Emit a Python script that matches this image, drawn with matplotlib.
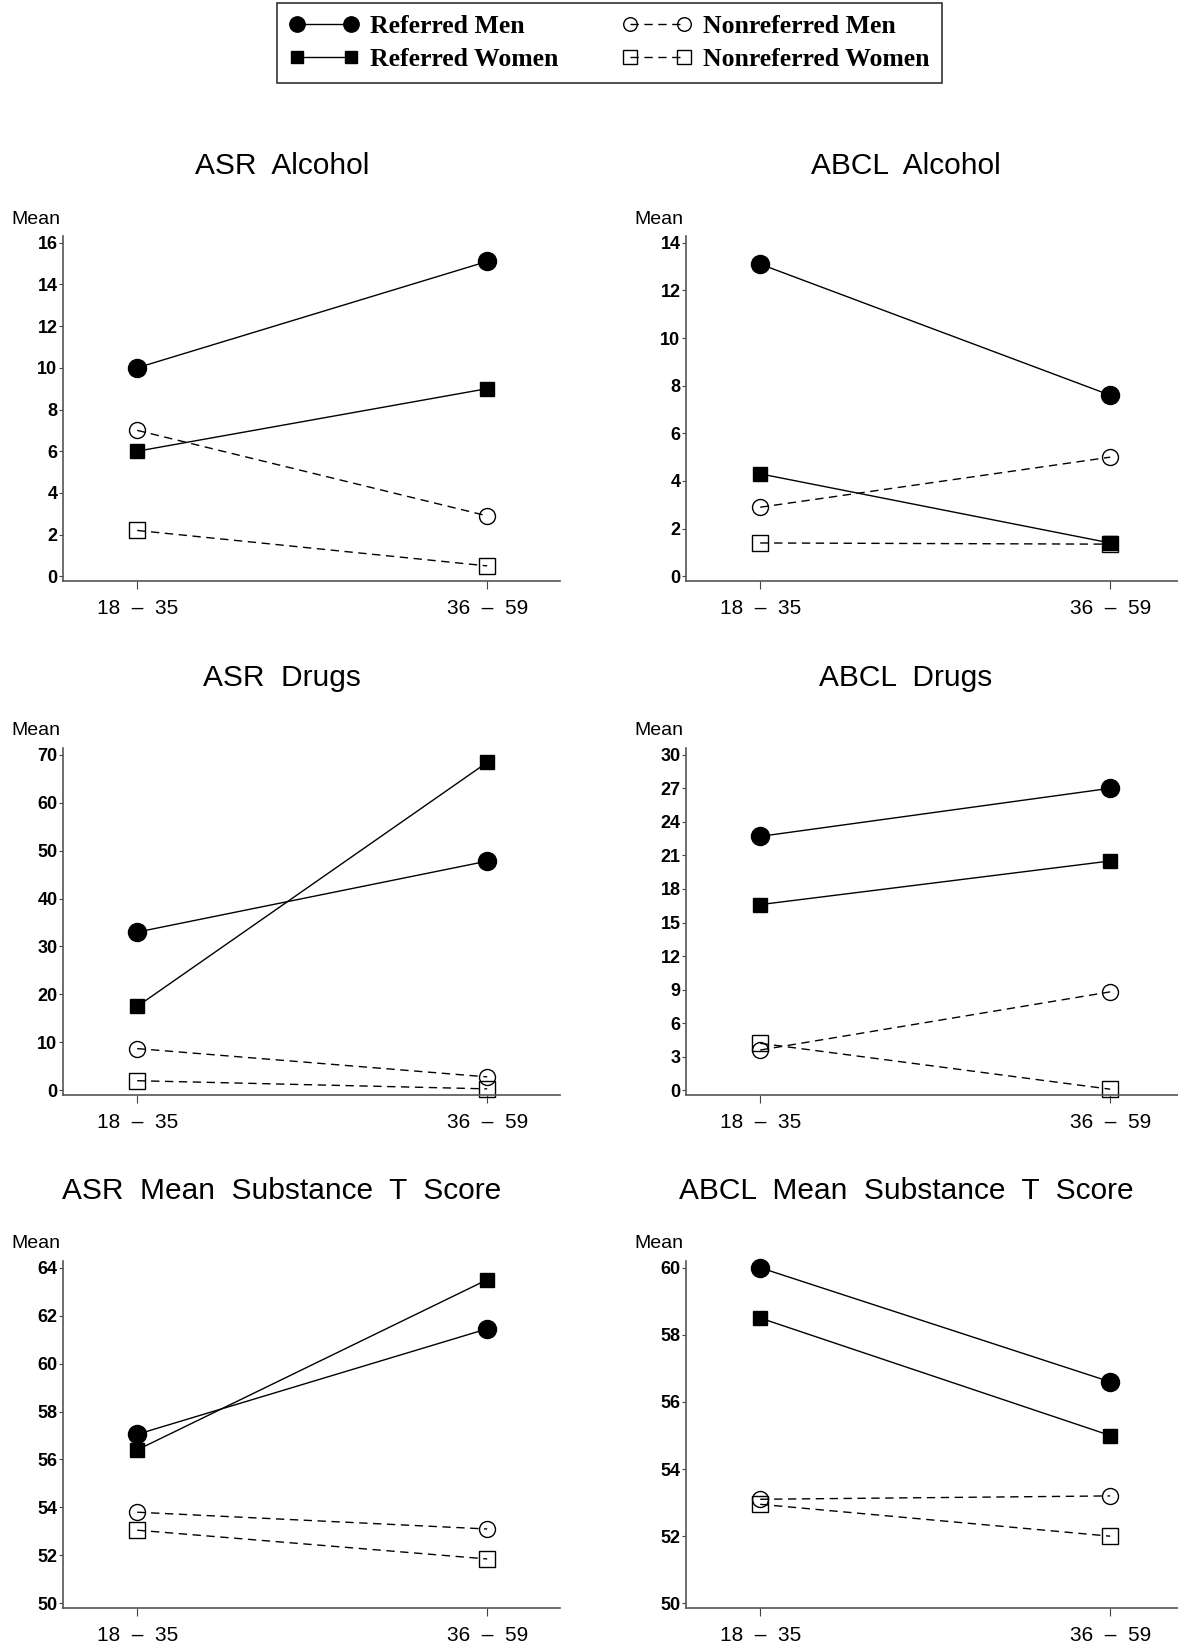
import matplotlib
matplotlib.use("Agg")
import matplotlib.pyplot as plt
from matplotlib.lines import Line2D

# age groups on the x axis
ages = ["18  \u2013  35", "36  \u2013  59"]
series = ["Referred Men", "Referred Women", "Nonreferred Men", "Nonreferred Women"]

# panel titles (row by row, left then right)
titles = ["ASR  Alcohol", "ABCL  Alcohol",
          "ASR  Drugs", "ABCL  Drugs",
          "ASR  Mean  Substance  T  Score", "ABCL  Mean  Substance  T  Score"]

# means per panel: referred men, referred women, nonreferred men, nonreferred women
asr_alcohol = [[10.0, 15.1], [6.0, 9.0], [7.0, 2.9], [2.2, 0.5]]
abcl_alcohol = [[13.1, 7.6], [4.3, 1.4], [2.9, 5.0], [1.4, 1.35]]
asr_drugs = [[33.0, 47.8], [17.5, 68.4], [8.7, 2.8], [2.0, 0.3]]
abcl_drugs = [[22.7, 27.0], [16.6, 20.5], [3.6, 8.8], [4.2, 0.1]]
asr_tscore = [[57.05, 61.45], [56.4, 63.5], [53.8, 53.1], [53.05, 51.85]]
abcl_tscore = [[60.0, 56.6], [58.5, 55.0], [53.1, 53.2], [52.95, 52.0]]
panels = [asr_alcohol, abcl_alcohol, asr_drugs, abcl_drugs, asr_tscore, abcl_tscore]

# y tick ranges (min, max, step)
yticks = [(0, 16, 2), (0, 14, 2), (0, 70, 10), (0, 30, 3), (50, 64, 2), (50, 60, 2)]

W, H = 1178, 1647
narrow = ["Liberation Sans Narrow", "Liberation Sans", "DejaVu Sans"]
sans = ["Liberation Sans", "DejaVu Sans"]

styles = [
    dict(marker="o", ms=13, mfc="black", mec="black", ls="-"),
    dict(marker="s", ms=10.5, mfc="black", mec="black", ls="-"),
    dict(marker="o", ms=11.5, mfc="none", mec="black", ls=(0, (6, 4))),
    dict(marker="s", ms=11.5, mfc="none", mec="black", ls=(0, (6, 4))),
]

fig = plt.figure(figsize=(W / 100, H / 100), dpi=100)

cols = [(63, 560, 282), (686, 1183, 906)]
rows = [(236, 581, 166, 219), (748, 1095, 678, 731), (1261, 1608, 1191, 1244)]

for i, data in enumerate(panels):
    r, c = divmod(i, 2)
    x0, x1, tx = cols[c]
    y0, y1, ty, my = rows[r]
    ax = fig.add_axes([x0 / W, 1 - y1 / H, (x1 - x0) / W, (y1 - y0) / H])
    for vals, st in zip(data, styles):
        ax.plot([0, 1], vals, color="black", lw=1.0, marker=st["marker"], ms=st["ms"],
                mfc=st["mfc"], mec=st["mec"], mew=1.0, ls=st["ls"], clip_on=False)
    lo, hi, step = yticks[i]
    rng = hi - lo
    ax.set_ylim(lo - 0.014 * rng, hi + 0.02 * rng)
    ax.set_xlim(-0.212, 1.208)
    ax.set_yticks(range(lo, hi + 1, step))
    ax.set_yticklabels([str(v) for v in range(lo, hi + 1, step)],
                       family=narrow, fontweight="bold", fontsize=13)
    ax.set_xticks([0, 1])
    ax.set_xticklabels(ages, family=sans, fontsize=15)
    ax.tick_params(axis="y", length=3, pad=1, color="#444444")
    ax.tick_params(axis="x", length=6, pad=7, color="#444444")
    for s in ["top", "right"]:
        ax.spines[s].set_visible(False)
    for s in ["left", "bottom"]:
        ax.spines[s].set_color("#555555")
        ax.spines[s].set_linewidth(1.2)
    fig.text(tx / W, 1 - ty / H, titles[i], ha="center", va="center",
             family=sans, fontsize=21.5)
    fig.text((x0 - 52) / W, 1 - my / H, "Mean", ha="left", va="center",
             family=narrow, fontsize=14)

handles = []
for name, st in zip(series, styles):
    handles.append(Line2D([], [], color="black", lw=1.0, marker=st["marker"],
                          ms=st["ms"] * 0.85, mfc=st["mfc"], mec=st["mec"], ls=st["ls"]))

leg = fig.legend(handles, series, loc="upper center", ncol=2,
                 bbox_to_anchor=(609.5 / W, 1 - 3 / H), borderaxespad=0,
                 numpoints=2, frameon=True, fancybox=False, edgecolor="black",
                 handlelength=2.7, handletextpad=0.45, columnspacing=2.5,
                 labelspacing=0.42, borderpad=0.45,
                 prop={"family": ["Liberation Serif", "DejaVu Serif"],
                       "weight": "bold", "size": 18.5})
leg.get_frame().set_linewidth(1.2)

fig.savefig("out.png", dpi=100)
